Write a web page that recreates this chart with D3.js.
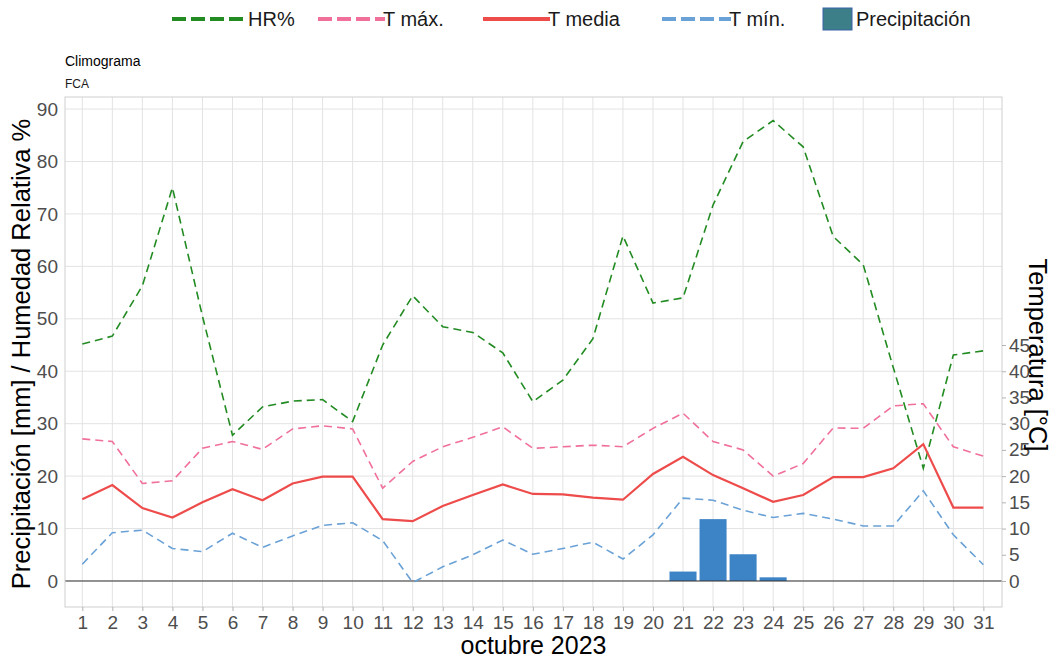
<!DOCTYPE html>
<html>
<head>
<meta charset="utf-8">
<script src="https://cdn.jsdelivr.net/npm/d3@7"></script>
<style>
  html, body { margin: 0; padding: 0; background: #fff; overflow: hidden; }
  svg { display: block; font-family: "Liberation Sans", Arial, sans-serif; }
</style>
</head>
<body>
<div id="plot"></div>
<script>
const w = 1049;
const h = 657;
const margin = { top: 97, right: 47, bottom: 50, left: 65 };
const innerWidth = w - margin.left - margin.right;
const innerHeight = h - margin.top - margin.bottom;

const days = d3.range(1, 32);
const hr = [45.2, 46.7, 56.3, 75.0, 50.5, 27.8, 33.2, 34.3, 34.6, 30.4,
  45.0, 54.4, 48.5, 47.4, 43.5, 34.2, 38.3, 46.2, 65.8, 53.0,
  54.0, 71.7, 83.8, 87.8, 82.8, 65.7, 60.3, 40.7, 21.5, 43.1, 43.9];
const tmax = [27.1, 26.6, 18.6, 19.1, 25.3, 26.6, 25.1, 29.0, 29.6, 29.0,
  17.7, 22.8, 25.6, 27.4, 29.4, 25.3, 25.6, 25.9, 25.6, 29.1,
  32.0, 26.6, 25.0, 20.0, 22.4, 29.2, 29.1, 33.4, 33.8, 25.6, 23.8];
const tmed = [15.6, 18.3, 13.9, 12.1, 15.0, 17.5, 15.4, 18.6, 19.9, 19.9,
  11.8, 11.4, 14.3, 16.4, 18.4, 16.6, 16.5, 15.9, 15.5, 20.4,
  23.7, 20.2, 17.7, 15.1, 16.4, 19.8, 19.8, 21.5, 26.1, 14.0, 14.0];
const tmin = [3.2, 9.2, 9.7, 6.2, 5.6, 9.1, 6.4, 8.6, 10.6, 11.1,
  7.7, -0.3, 2.7, 5.0, 7.8, 5.1, 6.2, 7.4, 4.2, 8.8,
  15.8, 15.4, 13.5, 12.1, 12.9, 11.8, 10.5, 10.5, 17.2, 8.8, 3.1];
const precip = [0, 0, 0, 0, 0, 0, 0, 0, 0, 0,
  0, 0, 0, 0, 0, 0, 0, 0, 0, 0,
  1.8, 11.8, 5.1, 0.7, 0, 0, 0, 0, 0, 0, 0];

const leftTicks = d3.range(0, 91, 10);
const rightTicks = d3.range(0, 46, 5);

const seriesNames = ["HR%", "T máx.", "T media", "T mín.", "Precipitación"];

const svg = d3.select("div#plot")
  .append("svg")
  .attr("width", w)
  .attr("height", h);

const xScale = d3.scaleLinear()
  .domain([0.424, 31.62])
  .range([0, innerWidth]);

const yScale = d3.scaleLinear()
  .domain([-4.96, 92.3])
  .range([innerHeight, 0]);

const plotGroup = svg.append("g")
  .attr("transform", `translate(${margin.left}, ${margin.top})`);

// grid
plotGroup.selectAll(".hgrid")
  .data(leftTicks)
  .enter()
  .append("line")
  .attr("x1", 0)
  .attr("x2", innerWidth)
  .attr("y1", d => yScale(d))
  .attr("y2", d => yScale(d))
  .attr("stroke", "#e3e3e3")
  .attr("stroke-width", 1);

plotGroup.selectAll(".vgrid")
  .data(days)
  .enter()
  .append("line")
  .attr("x1", d => xScale(d))
  .attr("x2", d => xScale(d))
  .attr("y1", 0)
  .attr("y2", innerHeight)
  .attr("stroke", "#e3e3e3")
  .attr("stroke-width", 1);

// bars
const barW = xScale(1.9) - xScale(1);
plotGroup.selectAll(".bar")
  .data(days.filter((d, i) => precip[i] > 0))
  .enter()
  .append("rect")
  .attr("x", d => xScale(d) - barW / 2)
  .attr("width", barW)
  .attr("y", d => yScale(precip[d - 1]))
  .attr("height", d => yScale(0) - yScale(precip[d - 1]))
  .attr("fill", "#3d84c6");

// zero line
plotGroup.append("line")
  .attr("x1", 0)
  .attr("x2", innerWidth)
  .attr("y1", yScale(0))
  .attr("y2", yScale(0))
  .attr("stroke", "#333")
  .attr("stroke-width", 1);

const line = d3.line()
  .x((d, i) => xScale(days[i]))
  .y(d => yScale(d));

const lines = [
  { vals: hr, color: "#228b22", dash: "8,5" },
  { vals: tmax, color: "#f0709a", dash: "8,5" },
  { vals: tmed, color: "#ee4b4b", dash: null },
  { vals: tmin, color: "#6aa1d6", dash: "8,5" }
];

lines.forEach(s => {
  plotGroup.append("path")
    .datum(s.vals)
    .attr("d", line)
    .attr("fill", "none")
    .attr("stroke", s.color)
    .attr("stroke-width", s.dash ? 1.6 : 2.2)
    .attr("stroke-dasharray", s.dash);
});

// panel border
plotGroup.append("rect")
  .attr("width", innerWidth)
  .attr("height", innerHeight)
  .attr("fill", "none")
  .attr("stroke", "#cfcfcf")
  .attr("stroke-width", 1);

// axes
const xAxis = d3.axisBottom(xScale).tickValues(days).tickFormat(d3.format("d")).tickSize(4).tickPadding(5);
const yAxis = d3.axisLeft(yScale).tickValues(leftTicks).tickSize(0).tickPadding(7);
const yAxisR = d3.axisRight(yScale).tickValues(rightTicks).tickSize(4).tickPadding(3);

[ { g: xAxis, t: `translate(0, ${innerHeight})` },
  { g: yAxis, t: null },
  { g: yAxisR, t: `translate(${innerWidth}, 0)` } ].forEach(a => {
  const ax = plotGroup.append("g").attr("transform", a.t).call(a.g);
  ax.select(".domain").remove();
  ax.selectAll(".tick line").attr("stroke", "#b3b3b3");
  ax.selectAll(".tick text")
    .attr("fill", "#4d4d4d")
    .attr("font-size", "19px")
    .attr("font-family", "Liberation Sans, Arial, sans-serif");
});

// titles
svg.append("text")
  .attr("x", 65)
  .attr("y", 66)
  .attr("font-size", "14px")
  .attr("fill", "#000")
  .text("Climograma");

svg.append("text")
  .attr("x", 65)
  .attr("y", 88)
  .attr("font-size", "12px")
  .attr("fill", "#1a1a1a")
  .text("FCA");

svg.append("text")
  .attr("x", margin.left + innerWidth / 2)
  .attr("y", 654)
  .attr("text-anchor", "middle")
  .attr("font-size", "25px")
  .attr("fill", "#000")
  .text("octubre 2023");

svg.append("text")
  .attr("transform", "rotate(-90)")
  .attr("x", -354)
  .attr("y", 30)
  .attr("text-anchor", "middle")
  .attr("font-size", "25.5px")
  .attr("fill", "#000")
  .text("Precipitación [mm] / Humedad Relativa %");

svg.append("text")
  .attr("transform", "rotate(90)")
  .attr("x", 355)
  .attr("y", -1029)
  .attr("text-anchor", "middle")
  .attr("font-size", "25.5px")
  .attr("fill", "#000")
  .text("Temperatura [°C]");

// legend
const legendItems = [
  { color: "#228b22", dash: "14,5", x1: 172, x2: 243, tx: 248 },
  { color: "#f0709a", dash: "14,5", x1: 318, x2: 385, tx: 383 },
  { color: "#ee4b4b", dash: null, x1: 483, x2: 550, tx: 548 },
  { color: "#6aa1d6", dash: "14,5", x1: 662, x2: 731, tx: 729 },
  { color: "#3d7f88", rect: true, x1: 823, x2: 852, tx: 856 }
];

const legend = svg.append("g");
legendItems.forEach((d, i) => {
  if (d.rect) {
    legend.append("rect")
      .attr("x", d.x1)
      .attr("y", 8)
      .attr("width", d.x2 - d.x1)
      .attr("height", 22)
      .attr("fill", d.color)
      .attr("stroke", "#3a62a8")
      .attr("stroke-width", 1);
  } else {
    legend.append("line")
      .attr("x1", d.x1)
      .attr("x2", d.x2)
      .attr("y1", 19)
      .attr("y2", 19)
      .attr("stroke", d.color)
      .attr("stroke-width", 4)
      .attr("stroke-dasharray", d.dash);
  }
  legend.append("text")
    .attr("x", d.tx)
    .attr("y", 26)
    .attr("font-size", "20px")
    .attr("fill", "#1a1a1a")
    .text(seriesNames[i]);
});
</script>
</body>
</html>
